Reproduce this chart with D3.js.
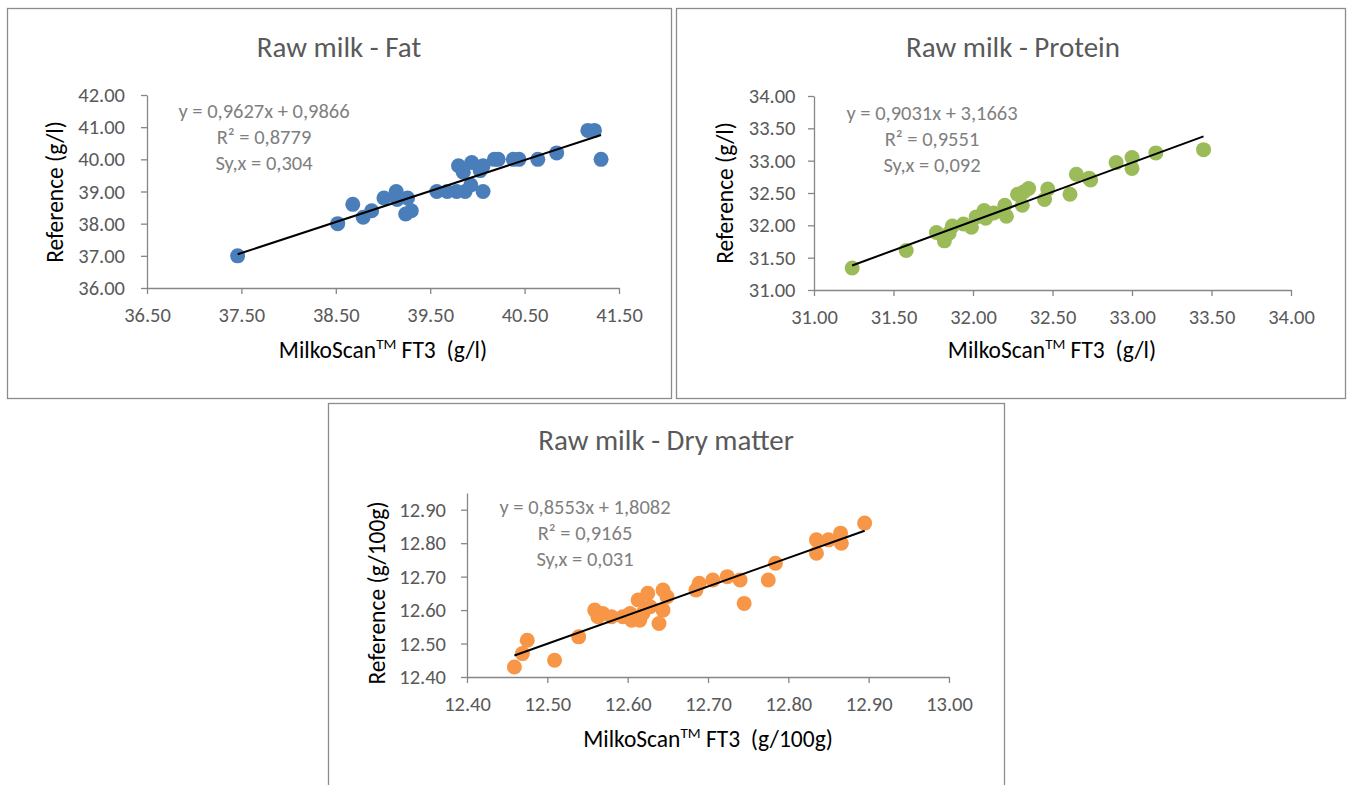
<!DOCTYPE html>
<html>
<head>
<meta charset="utf-8">
<script src="https://cdn.jsdelivr.net/npm/d3@7"></script>
<style>
  body { margin: 0; background: #fff; }
  svg { display: block; font-family: Carlito, Calibri, Lato, sans-serif; }
  text { white-space: pre; }
</style>
</head>
<body>
<div id="chart"></div>
<script>
// Fat (g/l)
const fatX = [37.46, 38.52, 38.68, 38.79, 38.88, 39.01, 39.14, 39.15, 39.26, 39.24, 39.30,
  39.57, 39.68, 39.78, 39.87, 39.80, 39.85, 39.94, 39.93, 40.03, 40.06, 40.06, 40.18, 40.22,
  40.38, 40.44, 40.64, 40.84, 41.17, 41.24, 41.31];
const fatY = [37.00, 38.00, 38.60, 38.20, 38.40, 38.80, 39.00, 38.75, 38.80, 38.30, 38.40,
  39.00, 39.00, 39.00, 39.00, 39.80, 39.60, 39.90, 39.20, 39.65, 39.80, 39.00, 40.00, 40.00,
  40.00, 40.00, 40.00, 40.20, 40.90, 40.90, 40.00];
const fatFit = {slope: 0.9627, intercept: 0.9866};
const fatLabels = ["y = 0,9627x + 0,9866", "R² = 0,8779", "Sy,x = 0,304"];
const fatXTicks = [36.5, 37.5, 38.5, 39.5, 40.5, 41.5];
const fatYTicks = [36, 37, 38, 39, 40, 41, 42];

// Protein (g/l)
const proteinX = [31.24, 31.58, 31.77, 31.82, 31.85, 31.87, 31.94, 31.99, 32.02, 32.07, 32.08,
  32.13, 32.20, 32.21, 32.28, 32.31, 32.32, 32.35, 32.47, 32.45, 32.61, 32.65, 32.74, 32.73,
  32.90, 33.00, 33.00, 33.15, 33.45];
const proteinY = [31.34, 31.61, 31.89, 31.76, 31.88, 31.99, 32.02, 31.97, 32.13, 32.23, 32.11,
  32.19, 32.31, 32.14, 32.48, 32.31, 32.52, 32.57, 32.56, 32.40, 32.48, 32.79, 32.70, 32.73,
  32.97, 33.05, 32.88, 33.12, 33.17];
const proteinFit = {slope: 0.9031, intercept: 3.1663};
const proteinLabels = ["y = 0,9031x + 3,1663", "R² = 0,9551", "Sy,x = 0,092"];
const proteinXTicks = [31, 31.5, 32, 32.5, 33, 33.5, 34];
const proteinYTicks = [31, 31.5, 32, 32.5, 33, 33.5, 34];

// Dry matter (g/100g)
const dryX = [12.459, 12.469, 12.475, 12.509, 12.539, 12.559, 12.563, 12.569, 12.580, 12.594,
  12.603, 12.605, 12.613, 12.615, 12.619, 12.625, 12.628, 12.639, 12.644, 12.644, 12.649,
  12.685, 12.689, 12.706, 12.724, 12.740, 12.745, 12.775, 12.784, 12.835, 12.835, 12.850,
  12.865, 12.866, 12.895];
const dryY = [12.43, 12.47, 12.51, 12.45, 12.52, 12.60, 12.58, 12.59, 12.58, 12.58,
  12.59, 12.57, 12.63, 12.57, 12.59, 12.65, 12.61, 12.56, 12.66, 12.60, 12.64,
  12.66, 12.68, 12.69, 12.70, 12.69, 12.62, 12.69, 12.74, 12.81, 12.77, 12.81,
  12.83, 12.80, 12.86];
const dryFit = {slope: 0.8553, intercept: 1.8082};
const dryLabels = ["y = 0,8553x + 1,8082", "R² = 0,9165", "Sy,x = 0,031"];
const dryXTicks = [12.4, 12.5, 12.6, 12.7, 12.8, 12.9, 13.0];
const dryYTicks = [12.4, 12.5, 12.6, 12.7, 12.8, 12.9];

const width = 1349, height = 785;

const svg = d3.select("#chart").append("svg")
    .attr("width", width)
    .attr("height", height)
    .attr("viewBox", [0, 0, width, height]);

svg.append("rect").attr("width", width).attr("height", height).attr("fill", "#fff");

function scatterPanel(xs, ys, fit, labels, xTicks, yTicks, opt) {
  const g = svg.append("g");

  g.append("rect")
      .attr("x", opt.box[0] + 0.5)
      .attr("y", opt.box[1] + 0.5)
      .attr("width", opt.box[2])
      .attr("height", opt.box[3])
      .attr("fill", "#fff")
      .attr("stroke", "#8c8c8c")
      .attr("stroke-width", 1.3);

  const x = d3.scaleLinear().domain(opt.xDomain).range(opt.xRange);
  const y = d3.scaleLinear().domain(opt.yDomain).range(opt.yRange);

  g.append("text")
      .attr("x", opt.titlePos[0])
      .attr("y", opt.titlePos[1])
      .attr("text-anchor", "middle")
      .attr("fill", "#595959")
      .attr("font-size", 29)
      .text(opt.title);

  const xAxis = g.append("g")
      .attr("transform", `translate(0,${opt.yRange[0]})`)
      .call(d3.axisBottom(x).tickValues(xTicks).tickFormat(d3.format(".2f"))
        .tickSize(6).tickSizeOuter(0).tickPadding(13));
  const yAxis = g.append("g")
      .attr("transform", `translate(${opt.xRange[0]},0)`)
      .call(d3.axisLeft(y).tickValues(yTicks).tickFormat(d3.format(".2f"))
        .tickSize(6).tickSizeOuter(0).tickPadding(opt.yPad));

  [xAxis, yAxis].forEach(a => {
    a.select(".domain").attr("stroke", "#868686").attr("stroke-width", 1.3);
    a.selectAll(".tick line").attr("stroke", "#868686").attr("stroke-width", 1.3);
    a.selectAll(".tick text")
        .attr("fill", "#595959")
        .attr("font-size", 20.5)
        .attr("font-family", "Carlito, Calibri, Lato, sans-serif");
  });

  // axis titles
  const xt = g.append("text")
      .attr("x", opt.xTitlePos[0])
      .attr("y", opt.xTitlePos[1])
      .attr("text-anchor", "middle")
      .attr("fill", "#000")
      .attr("font-size", 23.5);
  xt.append("tspan").text("MilkoScan");
  xt.append("tspan").attr("font-size", 15).attr("dy", -9).text("TM");
  xt.append("tspan").attr("dy", 9).text(" FT3  " + opt.unit);

  g.append("text")
      .attr("transform", `translate(${opt.yTitlePos[0]},${opt.yTitlePos[1]}) rotate(-90)`)
      .attr("text-anchor", "middle")
      .attr("fill", "#000")
      .attr("font-size", 23.5)
      .text("Reference " + opt.unit);

  // points
  g.append("g")
      .attr("fill", opt.color)
    .selectAll("circle")
    .data(xs.map((d, i) => [d, ys[i]]))
    .join("circle")
      .attr("cx", d => x(d[0]))
      .attr("cy", d => y(d[1]))
      .attr("r", 7.5);

  // trend line
  const ext = d3.extent(xs);
  g.append("line")
      .attr("x1", x(ext[0]))
      .attr("y1", y(fit.slope * ext[0] + fit.intercept))
      .attr("x2", x(ext[1]))
      .attr("y2", y(fit.slope * ext[1] + fit.intercept))
      .attr("stroke", "#000")
      .attr("stroke-width", 2);

  // equation
  g.append("g")
    .selectAll("text")
    .data(labels)
    .join("text")
      .attr("x", opt.eqPos[0])
      .attr("y", (d, i) => opt.eqPos[1] + i * 26)
      .attr("text-anchor", "middle")
      .attr("fill", "#7f7f7f")
      .attr("font-size", 20.5)
      .text(d => d);
}

scatterPanel(fatX, fatY, fatFit, fatLabels, fatXTicks, fatYTicks, {
  box: [7, 8, 664, 390],
  xDomain: [36.5, 41.5], xRange: [147, 619],
  yDomain: [36, 42], yRange: [288, 95], yPad: 16,
  title: "Raw milk - Fat", titlePos: [339, 57],
  xTitlePos: [383, 358], yTitlePos: [63, 192],
  eqPos: [264, 118],
  unit: "(g/l)", color: "#4a7ebb"
});

scatterPanel(proteinX, proteinY, proteinFit, proteinLabels, proteinXTicks, proteinYTicks, {
  box: [676, 8, 669, 390],
  xDomain: [31, 34], xRange: [814, 1291],
  yDomain: [31, 34], yRange: [290, 96], yPad: 12.5,
  title: "Raw milk - Protein", titlePos: [1013, 57],
  xTitlePos: [1052, 358], yTitlePos: [733, 193],
  eqPos: [932, 120],
  unit: "(g/l)", color: "#9bbb59"
});

scatterPanel(dryX, dryY, dryFit, dryLabels, dryXTicks, dryYTicks, {
  box: [328, 403, 676, 400],
  xDomain: [12.4, 13.0], xRange: [467, 949],
  yDomain: [12.4, 12.95], yRange: [677, 493], yPad: 15,
  title: "Raw milk - Dry matter", titlePos: [666, 450],
  xTitlePos: [708, 747], yTitlePos: [385, 593],
  eqPos: [585, 514],
  unit: "(g/100g)", color: "#f79646"
});
</script>
</body>
</html>
